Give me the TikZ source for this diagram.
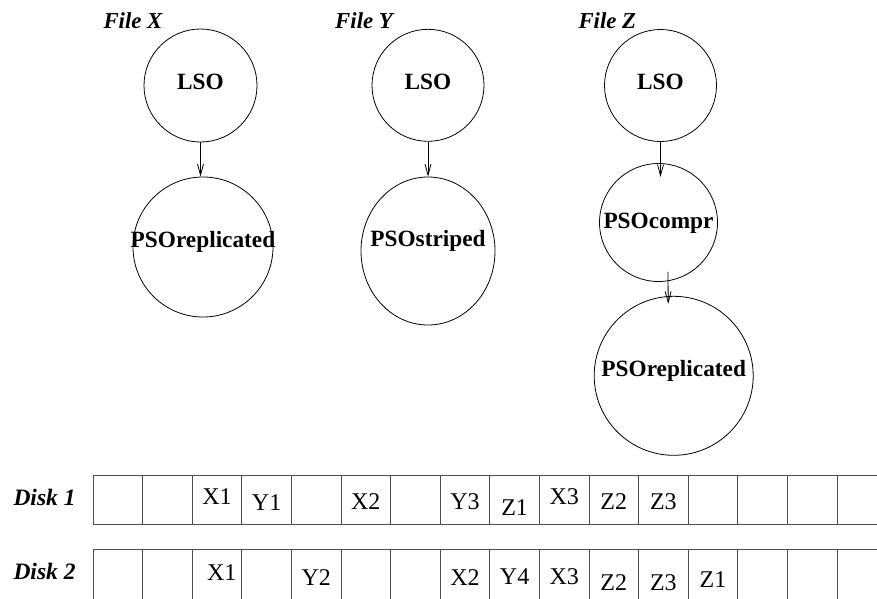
\documentclass[tikz,border=0pt]{standalone}
\usepackage{fontspec}
\setmainfont{Liberation Serif}
\usetikzlibrary{arrows.meta,shapes.geometric,calc}
\begin{document}
\begin{tikzpicture}[x=1pt,y=-1pt,
  circ/.style={draw=black,line width=0.8pt,circle,inner sep=0pt,font=\fontsize{23.3}{27}\selectfont\bfseries},
  ellip/.style={draw=black,line width=0.8pt,ellipse,inner sep=0pt,font=\fontsize{23.3}{27}\selectfont\bfseries},
  title/.style={anchor=base west,inner sep=0pt,font=\fontsize{22.8}{26}\selectfont\bfseries\itshape},
  dlabel/.style={anchor=base west,inner sep=0pt,font=\fontsize{23.5}{26}\selectfont\bfseries\itshape},
  arr/.style={draw=black,line width=0.8pt,-{Straight Barb[length=11pt,width=6pt]}},
  cell/.style={draw=black!70,line width=0.9pt,rectangle,inner sep=0pt,minimum width=49.6pt},
  dtxt/.style={inner sep=0pt,font=\fontsize{24}{28}\selectfont}
]
\useasboundingbox (0,0) rectangle (877,598);
\fill[white] (0,0) rectangle (877,598);

% titles
\node[title] (tX) at (103.3,28.3) {File X};
\node[title] (tY) at (335,28.3) {File Y};
\node[title] (tZ) at (578.3,28.3) {File Z};

% objects
\node[circ,minimum size=113pt,text height=17pt,text depth=10pt] (lsoX) at (200.5,85.5) {\makebox[0pt]{LSO}};
\node[circ,minimum size=112pt,text height=18pt,text depth=10pt] (lsoY) at (428,85.3) {\makebox[0pt]{LSO}};
\node[circ,minimum size=112pt,text height=18pt,text depth=10pt] (lsoZ) at (660.5,85.5) {\makebox[0pt]{LSO}};

\node[circ,minimum size=140pt,text height=10.6pt,text depth=10pt] (psoX) at (203,247) {\makebox[0pt]{PSOreplicated}};
\node[ellip,minimum width=134pt,minimum height=148pt,text height=1.4pt,text depth=10pt] (psoY) at (428,251) {\makebox[0pt]{PSOstriped}};
\node[circ,minimum size=118pt,text height=21.6pt,text depth=10pt] (psoC) at (658.5,222.5) {\makebox[0pt]{PSOcompr}};
\node[circ,minimum size=159pt,text height=12pt,text depth=10pt] (psoR) at (673.7,375.8) {\makebox[0pt]{PSOreplicated}};

% connectors
\draw[arr] (lsoX.south) -- (lsoX.south |- psoX.north);
\draw[arr] (lsoY.south) -- (lsoY.south |- psoY.north);
\draw[arr] (lsoZ.south) -- ([yshift=-14pt]lsoZ.south |- psoC.north);
\draw[arr] ($(psoC.south)+(9.5,-10)$) -- ($(psoR.north)+(-5.5,8)$);

% disk labels
\node[dlabel] (d1) at (13.3,505) {Disk 1};
\node[dlabel] (d2) at (13.3,579) {Disk 2};

% disk cells
\foreach \k in {0,...,15}{
  \node[cell,minimum height=49pt] (a\k) at ({117.8+49.6*\k},499.5) {};
  \node[cell,minimum height=60pt] (b\k) at ({117.8+49.6*\k},579) {};
}

% disk 1 contents
\node[dtxt] (ta2) at ($(a2.center)+(0,-2.5)$) {X1};
\node[dtxt] (ta3) at ($(a3.center)+(0,3.5)$) {Y1};
\node[dtxt] (ta5) at ($(a5.center)+(0,2.5)$) {X2};
\node[dtxt] (ta7) at ($(a7.center)+(0,2)$) {Y3};
\node[dtxt] (ta8) at ($(a8.center)+(0,8.5)$) {Z1};
\node[dtxt] (ta9) at ($(a9.center)+(0,-2.5)$) {X3};
\node[dtxt] (ta10) at ($(a10.center)+(0,2.5)$) {Z2};
\node[dtxt] (ta11) at ($(a11.center)+(0,2.5)$) {Z3};

% disk 2 contents
\node[dtxt] (tb2) at (221.7,572.5) {X1};
\node[dtxt] (tb4) at ($(b4.center |- 0,578)$) {Y2};
\node[dtxt] (tb7) at ($(b7.center |- 0,578)$) {X2};
\node[dtxt] (tb8) at ($(b8.center |- 0,577)$) {Y4};
\node[dtxt] (tb9) at ($(b9.center |- 0,577)$) {X3};
\node[dtxt] (tb10) at ($(b10.center |- 0,583)$) {Z2};
\node[dtxt] (tb11) at ($(b11.center |- 0,583)$) {Z3};
\node[dtxt] (tb12) at ($(b12.center |- 0,580)$) {Z1};
\end{tikzpicture}
\end{document}
